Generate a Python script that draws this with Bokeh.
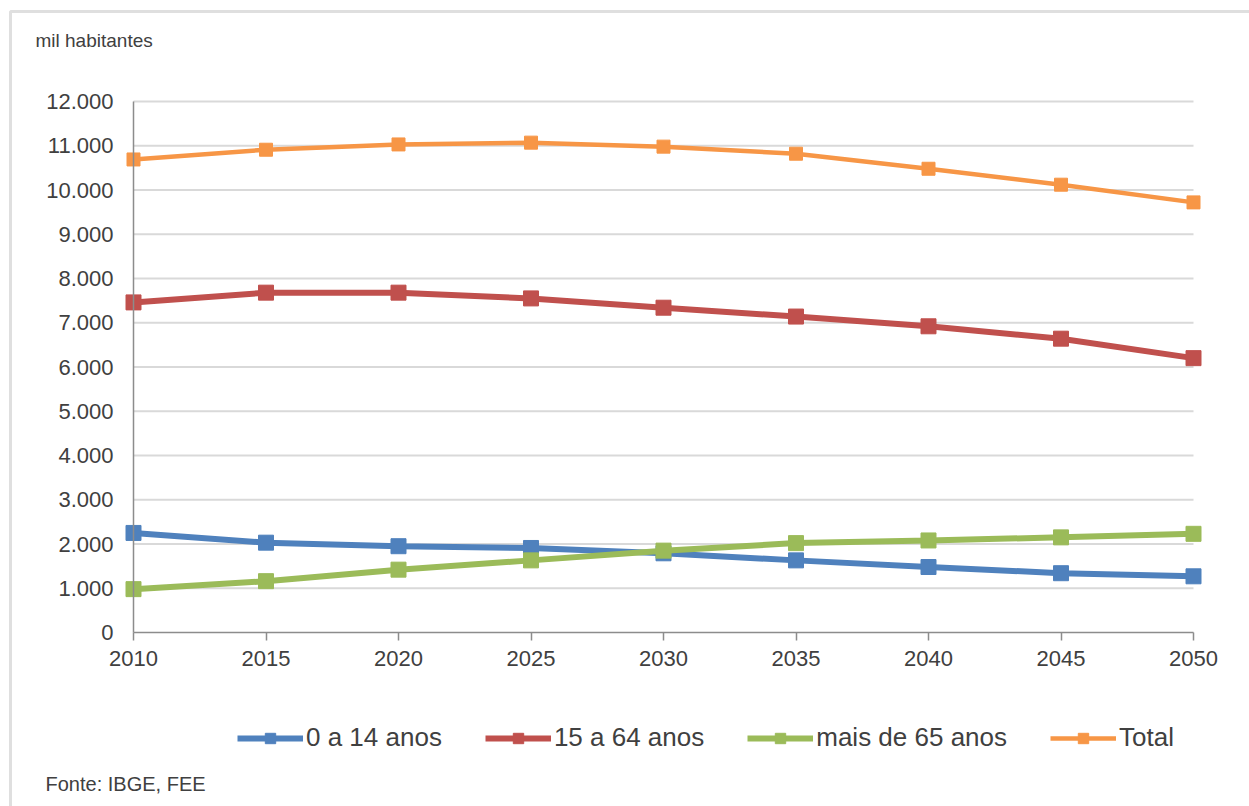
from bokeh.plotting import figure
from bokeh.models import Range1d, FixedTicker, Legend, LegendItem, Label, BoxAnnotation
from bokeh.embed import file_html
from bokeh.resources import INLINE

years = [2010, 2015, 2020, 2025, 2030, 2035, 2040, 2045, 2050]
age_0_14 = [2250, 2030, 1950, 1910, 1790, 1630, 1480, 1340, 1270]
age_15_64 = [7460, 7680, 7680, 7550, 7340, 7140, 6920, 6640, 6200]
age_65_plus = [980, 1160, 1420, 1630, 1850, 2020, 2080, 2150, 2230]
total = [10690, 10910, 11030, 11070, 10980, 10820, 10480, 10120, 9720]

series_names = ["0 a 14 anos", "15 a 64 anos", "mais de 65 anos", "Total"]
y_ticks = [0, 1000, 2000, 3000, 4000, 5000, 6000, 7000, 8000, 9000, 10000, 11000, 12000]
y_tick_labels = ["0", "1.000", "2.000", "3.000", "4.000", "5.000", "6.000", "7.000",
                 "8.000", "9.000", "10.000", "11.000", "12.000"]
x_ticks = years

FONT = "Liberation Sans"
W, H = 1249, 806
# plot area placement inside the canvas (pixels)
PX_L, PX_R, PX_T, PX_B = 133, 1193, 101, 632

ppx = (PX_R - PX_L) / (years[-1] - years[0])
ppy = (PX_B - PX_T) / (y_ticks[-1] - y_ticks[0])
x_range = Range1d(years[0] - PX_L / ppx, years[-1] + (W - PX_R) / ppx)
y_range = Range1d(y_ticks[0] - (H - PX_B) / ppy, y_ticks[-1] + PX_T / ppy)

p = figure(width=W, height=H, output_backend="svg", toolbar_location=None,
           x_range=x_range, y_range=y_range,
           min_border_left=0, min_border_right=0, min_border_top=0, min_border_bottom=0)
p.outline_line_color = None
p.background_fill_color = "white"
p.border_fill_color = "white"
p.grid.visible = False

# horizontal gridlines limited to the plot area
grid_y = y_ticks[1:]
p.segment(x0=[years[0]] * len(grid_y), x1=[years[-1]] * len(grid_y), y0=grid_y, y1=grid_y,
          line_color="#d9d9d9", line_width=2)

# axes
p.xaxis.fixed_location = 0
p.xaxis.ticker = FixedTicker(ticks=x_ticks)
p.xaxis.bounds = (years[0], years[-1])
p.xaxis.axis_line_color = "#8c8c8c"
p.xaxis.axis_line_width = 1.5
p.xaxis.major_tick_line_color = "#8c8c8c"
p.xaxis.major_tick_line_width = 1.5
p.xaxis.major_tick_out = 8
p.xaxis.major_tick_in = 0
p.xaxis.minor_tick_line_color = None
p.xaxis.major_label_standoff = 10
p.xaxis.major_label_text_font = FONT
p.xaxis.major_label_text_font_size = "22px"
p.xaxis.major_label_text_color = "#404040"

p.yaxis.fixed_location = years[0]
p.yaxis.ticker = FixedTicker(ticks=y_ticks)
p.yaxis.bounds = (y_ticks[0], y_ticks[-1])
p.yaxis.major_label_overrides = {t: l for t, l in zip(y_ticks, y_tick_labels)}
p.yaxis.axis_line_color = "#8c8c8c"
p.yaxis.axis_line_width = 1.5
p.yaxis.major_tick_line_color = None
p.yaxis.major_tick_out = 0
p.yaxis.major_tick_in = 0
p.yaxis.minor_tick_line_color = None
p.yaxis.major_label_standoff = 20
p.yaxis.major_label_text_font = FONT
p.yaxis.major_label_text_font_size = "22px"
p.yaxis.major_label_text_color = "#404040"

colors = ["#4F81BD", "#C0504D", "#9BBB59", "#F79646"]
widths = [6, 6, 6, 4.5]
sizes = [15, 15, 15, 13]
data = [age_0_14, age_15_64, age_65_plus, total]

items = []
for name, vals, c, w, s in zip(series_names, data, colors, widths, sizes):
    r1 = p.line(years, vals, line_color=c, line_width=w)
    r2 = p.scatter(years, vals, marker="square", size=s, fill_color=c, line_color=c)
    items.append(LegendItem(label=name, renderers=[r1, r2]))

legend = Legend(items=items, orientation="horizontal", location=(237, H - 753))
legend.padding = 0
legend.margin = 0
legend.spacing = 43
legend.glyph_width = 66
legend.glyph_height = 26
legend.label_height = 26
legend.label_standoff = 3
legend.label_text_font = FONT
legend.label_text_font_size = "26px"
legend.label_text_color = "#404040"
legend.border_line_color = None
legend.background_fill_alpha = 0
p.add_layout(legend)

p.add_layout(Label(x=35, y=H - 40, x_units="screen", y_units="screen",
                   text="mil habitantes", text_font=FONT, text_font_size="19px",
                   text_color="#404040", text_baseline="middle"))
p.add_layout(Label(x=45, y=H - 783, x_units="screen", y_units="screen",
                   text="Fonte: IBGE, FEE", text_font=FONT, text_font_size="20px",
                   text_color="#404040", text_baseline="middle"))

p.add_layout(BoxAnnotation(left=10, right=W + 200, top=H - 11, bottom=-200,
                           left_units="screen", right_units="screen",
                           top_units="screen", bottom_units="screen",
                           fill_alpha=0, line_color="#969696", line_width=3))

open("out.html", "w").write(file_html(p, INLINE))
